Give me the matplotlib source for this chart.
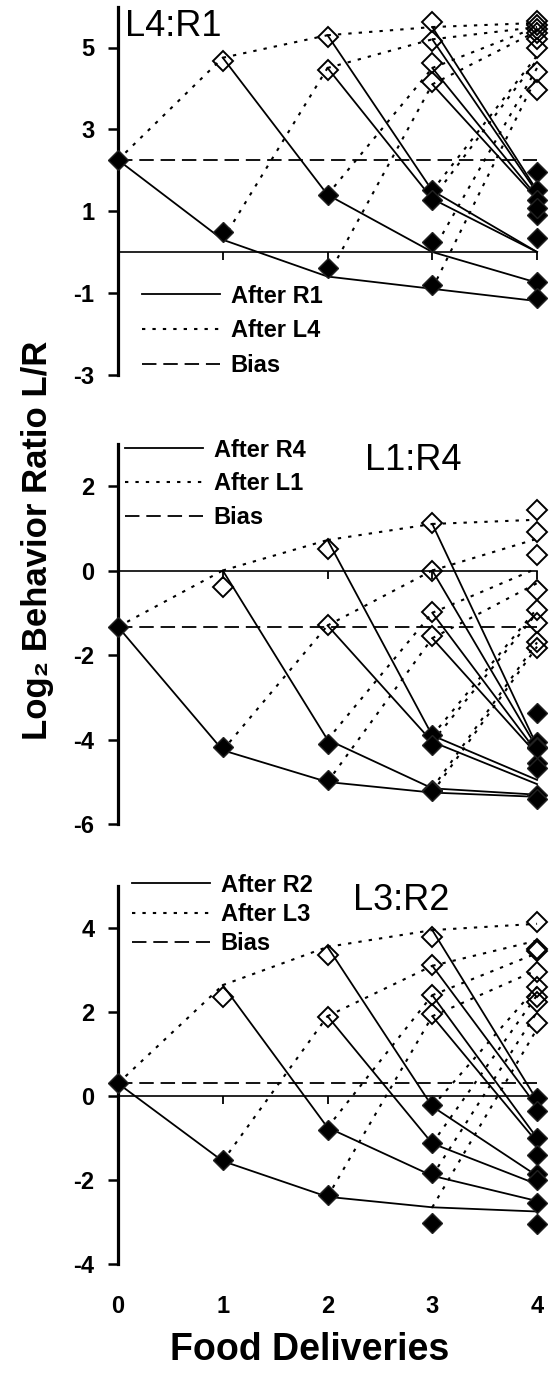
import matplotlib.pyplot as plt
from matplotlib.lines import Line2D

plt.rcParams['font.family'] = ['Liberation Sans', 'DejaVu Sans']
plt.rcParams['font.weight'] = 'bold'
plt.rcParams['axes.unicode_minus'] = False

deliveries = [0, 1, 2, 3, 4]

# node values per delivery, ordered like itertools.product('LR', repeat=d)
# model = lines, data = diamonds
l4r1_model = [[2.25],
              [4.75, 0.3],
              [5.3, 1.4, 4.5, -0.6],
              [5.5, 1.5, 4.5, 0.0, 5.2, 1.3, 4.1, -0.9],
              [5.6, 1.5, 4.8, 0.0, 5.5, 1.35, 4.5, -0.75,
               5.5, 1.45, 4.7, 0.0, 5.4, 1.3, 4.3, -1.2]]
l4r1_data = [[2.25],
             [4.67, 0.5],
             [5.25, 1.4, 4.45, -0.38],
             [5.63, 1.52, 4.61, 0.25, 5.17, 1.27, 4.16, -0.81],
             [5.65, 1.96, 5.0, 0.9, 5.55, 1.52, 4.4, -0.73,
              5.45, 1.27, 5.2, 0.34, 5.35, 1.07, 3.95, -1.13]]
l4r1_bias = 2.25

l1r4_model = [[-1.33],
              [0.0, -4.25],
              [0.72, -4.0, -1.3, -5.0],
              [1.1, -3.9, -1.0, -5.15, 0.0, -4.05, -1.6, -5.25],
              [1.2, -4.15, -0.9, -4.95, 0.05, -4.3, -1.7, -5.3,
               0.75, -4.2, -1.0, -5.05, -0.3, -4.35, -1.8, -5.35]]
l1r4_data = [[-1.33],
             [-0.38, -4.17],
             [0.52, -4.09, -1.29, -4.95],
             [1.12, -3.89, -0.97, -5.19, 0.0, -4.13, -1.56, -5.22],
             [1.43, -3.38, -0.93, -4.55, 0.37, -4.05, -1.68, -5.3,
              0.92, -4.17, -1.25, -4.67, -0.46, -4.2, -1.84, -5.4]]
l1r4_bias = -1.33

l3r2_model = [[0.3],
              [2.64, -1.55],
              [3.55, -0.75, 1.9, -2.4],
              [3.95, -0.25, 2.4, -1.9, 3.1, -1.13, 1.9, -2.65],
              [4.1, -0.1, 2.6, -1.9, 3.4, -1.0, 2.0, -2.5,
               3.7, -0.25, 2.4, -2.1, 3.0, -1.1, 1.6, -2.75]]
l3r2_data = [[0.3],
             [2.36, -1.52],
             [3.36, -0.81, 1.89, -2.36],
             [3.79, -0.21, 2.4, -1.84, 3.12, -1.13, 1.95, -3.02],
             [4.15, -0.05, 2.6, -1.85, 3.45, -1.0, 2.25, -2.55,
              3.5, -0.35, 2.35, -2.0, 2.95, -1.4, 1.75, -3.05]]
l3r2_bias = 0.3

W, H = 558, 1383
DOTTED = (0, (1.6, 3.4))
DASHED = (0, (8, 3.8))


def draw_panel(ax, model, data, bias, ylim, yticks, legend_labels, leg_xy, leg_space):
    for d in range(1, len(model)):
        for i, v in enumerate(model[d]):
            if i % 2 == 0:
                ax.plot([deliveries[d - 1], deliveries[d]], [model[d - 1][i // 2], v],
                        color='k', lw=1.5, ls=DOTTED, zorder=2)
            else:
                ax.plot([deliveries[d - 1], deliveries[d]], [model[d - 1][i // 2], v],
                        color='k', lw=1.3, ls='-', zorder=2)
    ax.plot([deliveries[0], deliveries[-1]], [bias, bias], color='k', lw=1.3, ls=DASHED, zorder=2)

    fx, fy, ox, oy = [], [], [], []
    for d, vals in enumerate(data):
        for i, v in enumerate(vals):
            if d == 0 or i % 2 == 1:
                fx.append(deliveries[d]); fy.append(v)
            else:
                ox.append(deliveries[d]); oy.append(v)
    ax.plot(ox, oy, ls='none', marker='D', ms=10, mfc='none', mec='k', mew=1.4,
            clip_on=False, zorder=3)
    ax.plot(fx, fy, ls='none', marker='D', ms=10.5, mfc='k', mec='#222222', mew=1.0,
            clip_on=False, zorder=4)

    ax.set_xlim(0, 4.2)
    ax.set_ylim(*ylim)
    ax.set_yticks(yticks)
    ax.set_xticks(deliveries)
    for s in ['top', 'right']:
        ax.spines[s].set_visible(False)
    ax.spines['bottom'].set_position(('data', 0))
    ax.spines['bottom'].set_bounds(0, 4)
    ax.spines['bottom'].set_linewidth(1.2)
    ax.spines['left'].set_linewidth(2.3)
    ax.tick_params(axis='x', labelbottom=False, length=6, width=1.3, direction='out')
    ax.tick_params(axis='y', length=7, width=1.8, pad=10, labelsize=17)

    handles = [Line2D([], [], color='k', lw=1.3, ls='-'),
               Line2D([], [], color='k', lw=1.5, ls=DOTTED),
               Line2D([], [], color='k', lw=1.3, ls=DASHED)]
    ax.legend(handles, legend_labels, loc='upper left', bbox_to_anchor=leg_xy,
              frameon=False, fontsize=17, handlelength=3.3, handletextpad=0.45,
              labelspacing=leg_space, borderpad=0, borderaxespad=0)


fig = plt.figure(figsize=(W / 100, H / 100), dpi=100)

# (top px, bottom px) of each panel
rects = [(6.6, 374.7), (443.6, 824.3), (886, 1264)]
left, right = 118, 558
axes = []
for top, bot in rects:
    axes.append(fig.add_axes([left / W, 1 - bot / H, (right - left) / W, (bot - top) / H]))

draw_panel(axes[0], l4r1_model, l4r1_data, l4r1_bias, (-3, 6), [-3, -1, 1, 3, 5],
           ['After R1', 'After L4', 'Bias'], (0.0545, 0.245), 0.5)
draw_panel(axes[1], l1r4_model, l1r4_data, l1r4_bias, (-6, 3), [-6, -4, -2, 0, 2],
           ['After R4', 'After L1', 'Bias'], (0.016, 1.013), 0.45)
draw_panel(axes[2], l3r2_model, l3r2_data, l3r2_bias, (-4, 5), [-4, -2, 0, 2, 4],
           ['After R2', 'After L3', 'Bias'], (0.032, 1.033), 0.27)

titles = [('L4:R1', 125, 36), ('L1:R4', 365, 470), ('L3:R2', 353, 910)]
for t, x, y in titles:
    fig.text(x / W, 1 - y / H, t, fontsize=26, fontweight='normal', va='baseline')

sec = axes[2].secondary_xaxis('bottom')
sec.set_xticks(deliveries)
sec.spines['bottom'].set_visible(False)
sec.tick_params(length=0, pad=22, labelsize=17)

fig.text(310 / W, 1 - 1350 / H, 'Food Deliveries', fontsize=27, ha='center', va='center')
fig.text(38 / W, 1 - 540 / H, 'Log\u2082 Behavior Ratio L/R', fontsize=25,
         rotation=90, ha='center', va='center')

fig.savefig('out.png', dpi=100)
